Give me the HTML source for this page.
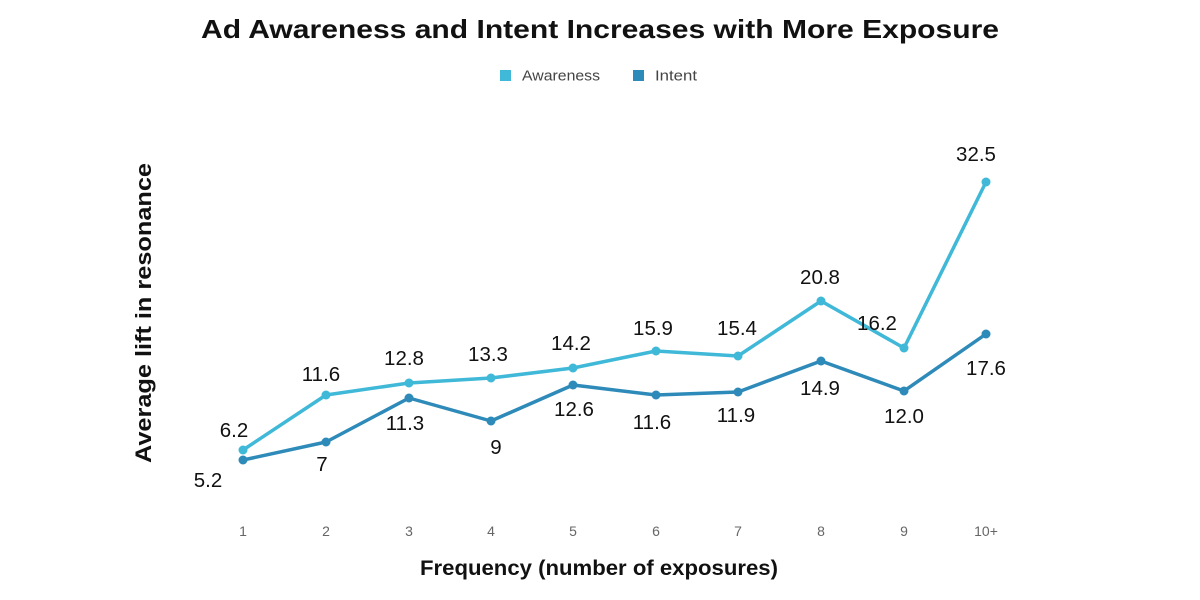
<!DOCTYPE html>
<html><head><meta charset="utf-8"><style>
html,body{margin:0;padding:0;background:#fff;}
svg{display:block;}
text{font-family:"Liberation Sans",sans-serif;}
</style></head><body>
<svg width="1200" height="600" viewBox="0 0 1200 600" xmlns="http://www.w3.org/2000/svg">
<rect width="1200" height="600" fill="#fff"/>
<text x="600" y="38" text-anchor="middle" font-size="26" font-weight="bold" fill="#111" textLength="798" lengthAdjust="spacingAndGlyphs">Ad Awareness and Intent Increases with More Exposure</text>
<rect x="500" y="70" width="11" height="11" fill="#40b8d8"/>
<text x="522" y="80.5" font-size="15" fill="#444" textLength="78" lengthAdjust="spacingAndGlyphs">Awareness</text>
<rect x="633" y="70" width="11" height="11" fill="#2e8ab8"/>
<text x="655" y="80.5" font-size="15" fill="#444" textLength="42" lengthAdjust="spacingAndGlyphs">Intent</text>
<text transform="translate(151,313) rotate(-90)" text-anchor="middle" font-size="22" font-weight="bold" fill="#111" textLength="300" lengthAdjust="spacingAndGlyphs">Average lift in resonance</text>
<text x="599" y="575" text-anchor="middle" font-size="21" font-weight="bold" fill="#111" textLength="358" lengthAdjust="spacingAndGlyphs">Frequency (number of exposures)</text>
<g font-size="14" fill="#666" text-anchor="middle">
<text x="243" y="536">1</text><text x="326" y="536">2</text><text x="409" y="536">3</text><text x="491" y="536">4</text><text x="573" y="536">5</text><text x="656" y="536">6</text><text x="738" y="536">7</text><text x="821" y="536">8</text><text x="904" y="536">9</text><text x="986" y="536">10+</text>
</g>
<polyline fill="none" stroke="#40b8d8" stroke-width="3.5" stroke-linejoin="round" points="243,450 326,395 409,383 491,378 573,368 656,351 738,356 821,301 904,348 986,182"/>
<polyline fill="none" stroke="#2e8ab8" stroke-width="3.5" stroke-linejoin="round" points="243,460 326,442 409,398 491,421 573,385 656,395 738,392 821,361 904,391 986,334"/>
<g fill="#40b8d8">
<circle cx="243" cy="450" r="4.5"/><circle cx="326" cy="395" r="4.5"/><circle cx="409" cy="383" r="4.5"/><circle cx="491" cy="378" r="4.5"/><circle cx="573" cy="368" r="4.5"/><circle cx="656" cy="351" r="4.5"/><circle cx="738" cy="356" r="4.5"/><circle cx="821" cy="301" r="4.5"/><circle cx="904" cy="348" r="4.5"/><circle cx="986" cy="182" r="4.5"/>
</g>
<g fill="#2e8ab8">
<circle cx="243" cy="460" r="4.5"/><circle cx="326" cy="442" r="4.5"/><circle cx="409" cy="398" r="4.5"/><circle cx="491" cy="421" r="4.5"/><circle cx="573" cy="385" r="4.5"/><circle cx="656" cy="395" r="4.5"/><circle cx="738" cy="392" r="4.5"/><circle cx="821" cy="361" r="4.5"/><circle cx="904" cy="391" r="4.5"/><circle cx="986" cy="334" r="4.5"/>
</g>
<g font-size="20.5" fill="#111" text-anchor="middle">
<text x="234" y="437">6.2</text>
<text x="321" y="381">11.6</text>
<text x="404" y="365">12.8</text>
<text x="488" y="361">13.3</text>
<text x="571" y="350">14.2</text>
<text x="653" y="335">15.9</text>
<text x="737" y="335">15.4</text>
<text x="820" y="284">20.8</text>
<text x="877" y="330">16.2</text>
<text x="976" y="161">32.5</text>
<text x="208" y="487">5.2</text>
<text x="322" y="471">7</text>
<text x="405" y="430">11.3</text>
<text x="496" y="454">9</text>
<text x="574" y="416">12.6</text>
<text x="652" y="429">11.6</text>
<text x="736" y="422">11.9</text>
<text x="820" y="395">14.9</text>
<text x="904" y="423">12.0</text>
<text x="986" y="375">17.6</text>
</g>
</svg>
</body></html>
